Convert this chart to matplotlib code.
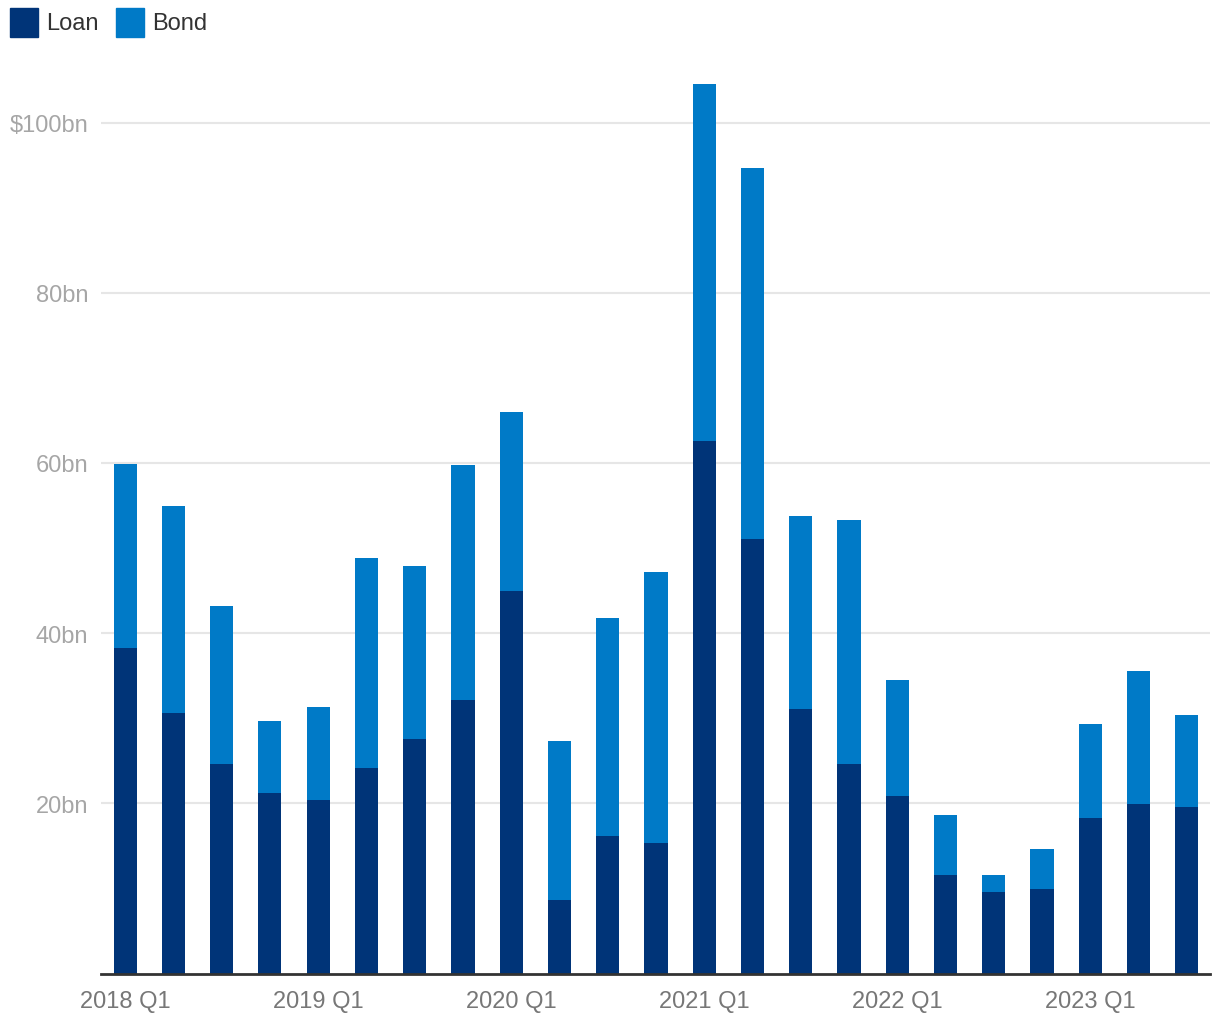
import matplotlib
matplotlib.use("Agg")
import matplotlib.pyplot as plt
from matplotlib.patches import Rectangle
import numpy as np

quarters = [f"{y} Q{q}" for y in range(2018, 2024) for q in range(1, 5)][:23]
loan = [38.3, 30.6, 24.6, 21.2, 20.4, 24.2, 27.5, 32.1, 44.9, 8.6, 16.2, 15.3,
        62.6, 51.1, 31.1, 24.6, 20.8, 11.6, 9.6, 9.9, 18.3, 19.9, 19.6]
total = [59.9, 54.9, 43.2, 29.7, 31.3, 48.8, 47.9, 59.7, 66.0, 27.3, 41.8, 47.2,
         104.5, 94.6, 53.8, 53.3, 34.5, 18.6, 11.6, 14.6, 29.3, 35.6, 30.4]
bond = [round(t - l, 1) for t, l in zip(total, loan)]
yticks = [20, 40, 60, 80, 100]
ytick_labels = ["20bn", "40bn", "60bn", "80bn", "$100bn"]

LOAN_C = "#003478"
BOND_C = "#007AC7"

plt.rcParams['font.family'] = ['Liberation Sans', 'DejaVu Sans']

W, H = 1220, 1020
fig = plt.figure(figsize=(W / 100, H / 100), dpi=100)
ax_left, ax_right, ax_bottom = 101, 1210, 974.5
ymax = 106
ax_top = ax_bottom - ymax * 8.51
ax = fig.add_axes([ax_left / W, 1 - ax_bottom / H, (ax_right - ax_left) / W, (ax_bottom - ax_top) / H])

x = np.arange(len(quarters))
ax.bar(x, loan, width=0.48, color=LOAN_C, zorder=3)
ax.bar(x, bond, bottom=loan, width=0.48, color=BOND_C, zorder=3)

ax.set_xlim(-0.5, len(quarters) - 0.52)
ax.set_ylim(0, ymax)
ax.set_yticks(yticks)
ax.set_yticklabels(ytick_labels)
ax.set_xticks(x[::4])
ax.set_xticklabels([quarters[i] for i in range(0, len(quarters), 4)])

for s in ["top", "right", "left"]:
    ax.spines[s].set_visible(False)
ax.spines["bottom"].set_color("#333333")
ax.spines["bottom"].set_linewidth(2)
ax.spines["bottom"].set_zorder(4)
ax.grid(axis="y", color="#e6e6e6", linewidth=1.5, zorder=0)
ax.tick_params(axis="y", length=0, pad=9, labelsize=17, labelcolor="#a6a6a6")
ax.tick_params(axis="x", length=0, pad=12, labelsize=17, labelcolor="#777777")

# legend
fig.add_artist(Rectangle((10 / W, 1 - 37.5 / H), 28 / W, 29 / H, transform=fig.transFigure, color=LOAN_C))
fig.text(46 / W, 1 - 24 / H, "Loan", fontsize=17, color="#333333", va="center", ha="left")
fig.add_artist(Rectangle((116 / W, 1 - 37.5 / H), 28 / W, 29 / H, transform=fig.transFigure, color=BOND_C))
fig.text(152 / W, 1 - 24 / H, "Bond", fontsize=17, color="#333333", va="center", ha="left")

fig.savefig("out.png", dpi=100, facecolor="white")
